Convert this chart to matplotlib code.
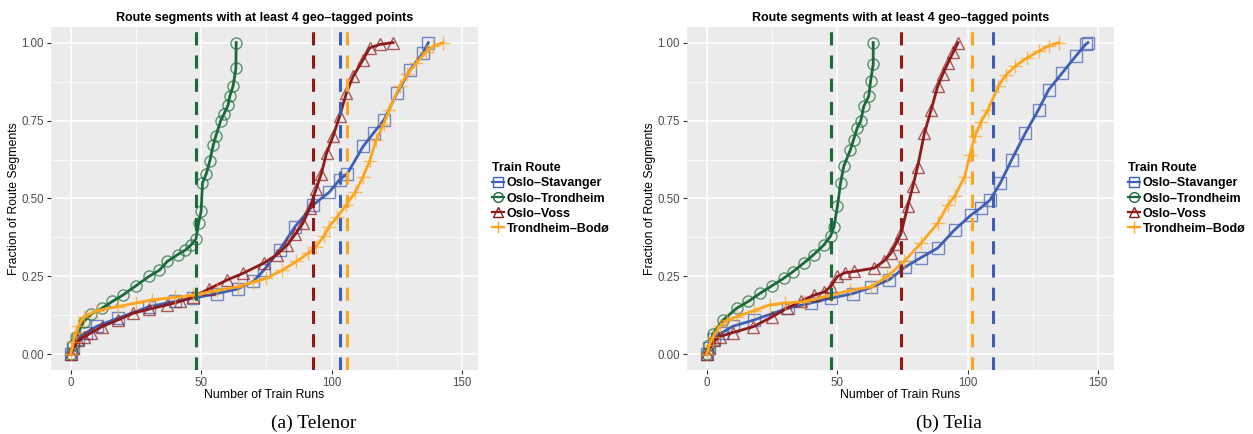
import matplotlib
matplotlib.use("Agg")
import matplotlib.pyplot as plt
from matplotlib.lines import Line2D

routes = ["Oslo–Stavanger", "Oslo–Trondheim", "Oslo–Voss", "Trondheim–Bodø"]
colors = ["#3f5fb4", "#1b6b3a", "#8e1b1b", "#fca61f"]
markers = ["s", "o", "^", "+"]

# Telenor
tn_stav_x = [0, 1, 3, 6, 10, 18, 30, 40, 47, 56, 64, 70, 74, 80, 86, 93, 99, 103, 106, 112, 116, 120, 125, 130, 135, 137]
tn_stav_y = [0, 0.02, 0.05, 0.07, 0.09, 0.116, 0.153, 0.17, 0.18, 0.195, 0.21, 0.235, 0.27, 0.335, 0.41, 0.48, 0.52, 0.56, 0.58, 0.667, 0.71, 0.752, 0.838, 0.913, 0.967, 1.0]
tn_trd_x = [0, 1, 2, 5, 8, 12, 16, 20, 25, 30, 34, 37, 41, 44, 46, 48, 49, 50, 50.5, 52, 53.3, 54.6, 55.6, 57.5, 58.7, 60.3, 61, 62.2, 63.3, 63.4]
tn_trd_y = [0, 0.03, 0.057, 0.105, 0.13, 0.148, 0.17, 0.19, 0.22, 0.25, 0.27, 0.298, 0.32, 0.335, 0.35, 0.37, 0.42, 0.46, 0.55, 0.58, 0.62, 0.67, 0.70, 0.75, 0.77, 0.80, 0.83, 0.86, 0.917, 1.0]
tn_voss_x = [0, 1, 3, 5, 8, 12, 18, 24, 30, 37, 42, 47, 53, 60, 66, 74, 79, 83, 86, 89, 91.6, 94, 96, 98, 100.5, 103, 105.6, 108.2, 112, 114.5, 118.4, 123.5]
tn_voss_y = [0, 0.02, 0.045, 0.055, 0.07, 0.089, 0.11, 0.132, 0.145, 0.159, 0.17, 0.185, 0.21, 0.239, 0.26, 0.293, 0.32, 0.351, 0.385, 0.421, 0.47, 0.53, 0.58, 0.645, 0.70, 0.763, 0.838, 0.892, 0.945, 0.983, 0.994, 1.0]
tn_bodo_x = [0, 1, 2, 3, 5, 10, 18, 25, 31, 40, 47, 56, 64, 70, 75, 81, 86.5, 91, 94, 97, 99, 102, 105.6, 109, 112, 114.5, 117, 120, 122, 126, 129, 132.4, 136, 138.8, 142.6]
tn_bodo_y = [0, 0.04, 0.07, 0.09, 0.12, 0.14, 0.153, 0.165, 0.175, 0.183, 0.19, 0.205, 0.217, 0.232, 0.244, 0.27, 0.298, 0.325, 0.346, 0.38, 0.41, 0.44, 0.48, 0.52, 0.57, 0.62, 0.688, 0.74, 0.785, 0.86, 0.9, 0.934, 0.97, 0.988, 1.0]
tn_means = [103, 48, 93, 106]

# Telia
ta_stav_x = [0, 1, 3, 6, 10, 18, 31, 40, 47.5, 56, 63, 70, 76, 82, 88.5, 95, 101.4, 105, 108.5, 112.5, 116.8, 122, 127.1, 131, 136.1, 141.3, 145.1, 146]
ta_stav_y = [0, 0.02, 0.05, 0.07, 0.09, 0.11, 0.148, 0.165, 0.18, 0.195, 0.215, 0.24, 0.28, 0.31, 0.341, 0.4, 0.448, 0.47, 0.495, 0.55, 0.624, 0.709, 0.785, 0.849, 0.902, 0.956, 0.994, 1.0]
ta_trd_x = [0, 1, 2.5, 6.3, 11.5, 16, 20.5, 25, 29.5, 33, 37.2, 41, 44.9, 47.5, 48.8, 50.1, 51.3, 52.5, 55.1, 56.3, 57.7, 59, 60.2, 62.1, 62.8, 63.8, 63.8]
ta_trd_y = [0, 0.03, 0.067, 0.11, 0.148, 0.17, 0.196, 0.22, 0.244, 0.265, 0.293, 0.32, 0.351, 0.38, 0.41, 0.475, 0.55, 0.603, 0.657, 0.689, 0.727, 0.748, 0.796, 0.828, 0.877, 0.93, 1.0]
ta_voss_x = [0, 1, 3, 5, 10, 17.9, 25, 30.8, 36, 41.1, 45, 47.5, 50.1, 53, 56.5, 64.2, 68, 70.6, 72.5, 74.5, 77, 79, 80.8, 83.4, 86, 88.5, 90.5, 92.4, 94.5, 96.3]
ta_voss_y = [0, 0.02, 0.045, 0.057, 0.07, 0.089, 0.12, 0.148, 0.17, 0.19, 0.2, 0.217, 0.25, 0.262, 0.266, 0.277, 0.3, 0.325, 0.355, 0.389, 0.475, 0.54, 0.602, 0.709, 0.785, 0.86, 0.9, 0.934, 0.97, 1.0]
ta_bodo_x = [0, 1, 2.5, 5, 8, 11.5, 18, 24.3, 30, 37.2, 47.5, 55, 62.9, 69.2, 75.6, 82.1, 88.5, 92.4, 95, 98.8, 100.8, 102.7, 105, 107.8, 111.7, 114.5, 118.1, 122.5, 127.1, 131, 134.9]
ta_bodo_y = [0, 0.03, 0.057, 0.09, 0.11, 0.121, 0.14, 0.159, 0.165, 0.169, 0.19, 0.205, 0.217, 0.25, 0.298, 0.357, 0.421, 0.48, 0.507, 0.57, 0.64, 0.699, 0.745, 0.785, 0.86, 0.895, 0.924, 0.95, 0.972, 0.99, 1.0]
ta_means = [109.5, 47.7, 74.6, 101.5]

panels = [
    ("(a) Telenor", [(tn_stav_x, tn_stav_y), (tn_trd_x, tn_trd_y), (tn_voss_x, tn_voss_y), (tn_bodo_x, tn_bodo_y)], tn_means),
    ("(b) Telia", [(ta_stav_x, ta_stav_y), (ta_trd_x, ta_trd_y), (ta_voss_x, ta_voss_y), (ta_bodo_x, ta_bodo_y)], ta_means),
]

plt.rcParams["font.family"] = ["Liberation Sans", "DejaVu Sans"]
fig = plt.figure(figsize=(12.53, 4.34), dpi=100)
lefts = [51 / 1253, 687 / 1253]
caps_x = [0.25, 0.757]

for k, (cap, series, means) in enumerate(panels):
    ax = fig.add_axes([lefts[k], 1 - 370 / 434, 427 / 1253, 343 / 434])
    ax.set_facecolor("#EBEBEB")
    for s in ax.spines.values():
        s.set_visible(False)
    ax.set_xlim(-7.5, 156)
    ax.set_ylim(-0.05, 1.05)
    ax.set_xticks([0, 50, 100, 150])
    ax.set_yticks([0, 0.25, 0.5, 0.75, 1.0])
    ax.set_yticklabels(["0.00", "0.25", "0.50", "0.75", "1.00"])
    ax.set_xticks([25, 75, 125], minor=True)
    ax.set_yticks([0.125, 0.375, 0.625, 0.875], minor=True)
    ax.grid(True, which="major", color="white", lw=1.1)
    ax.grid(True, which="minor", color="white", lw=0.55)
    ax.set_axisbelow(True)
    ax.tick_params(which="major", length=3, width=0.8, color="#333333", labelsize=8.3, labelcolor="#4D4D4D", pad=2)
    ax.tick_params(which="minor", length=0)
    ax.set_xlabel("Number of Train Runs", fontsize=8.8, labelpad=0)
    ax.set_ylabel("Fraction of Route Segments", fontsize=8.8, labelpad=1)
    ax.set_title("Route segments with at least 4 geo–tagged points", fontsize=9, fontweight="bold", pad=4)

    for i, (xs, ys) in enumerate(series):
        ax.plot(xs, ys, color=colors[i], lw=2.0, zorder=3)
        ms = 10 if markers[i] == "+" else 8
        ax.plot(xs, ys, ls="none", marker=markers[i], ms=ms, mfc="none", mec=colors[i], mew=1.0, alpha=0.7, zorder=3)
    for i, m in enumerate(means):
        ax.axvline(m, color=colors[i], lw=2.2, dashes=(4.3, 3.3), zorder=4)

    handles = [Line2D([], [], color=colors[i], lw=1.6, marker=markers[i], ms=7 if markers[i] != "+" else 9,
                      mfc="none", mec=colors[i]) for i in range(4)]
    leg = ax.legend(handles, routes, loc="upper left", bbox_to_anchor=(1.02, 0.62), frameon=False,
                    title="Train Route", handlelength=1.0, handletextpad=0.2, labelspacing=0.25,
                    borderaxespad=0, prop={"size": 9, "weight": "bold"},
                    title_fontproperties={"size": 9, "weight": "bold"})
    leg._legend_box.align = "left"

    fig.text(caps_x[k], 0.025, cap, ha="center", va="center", fontsize=14, family="Liberation Serif")

fig.savefig("out.png", dpi=100)
